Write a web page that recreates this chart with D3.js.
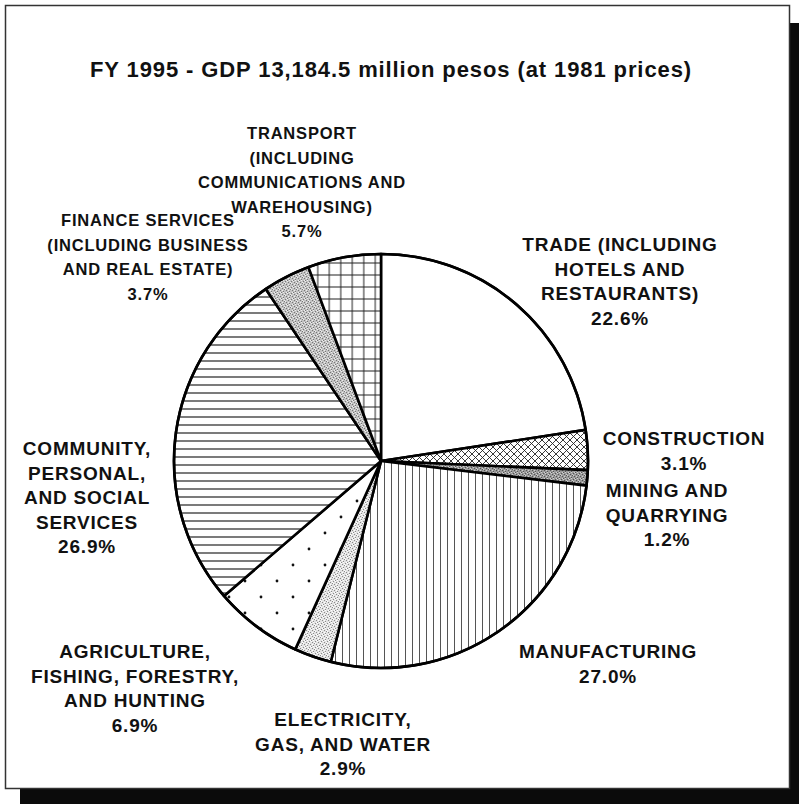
<!DOCTYPE html>
<html>
<head>
<meta charset="utf-8">
<script src="https://cdn.jsdelivr.net/npm/d3@7/dist/d3.min.js"></script>
<style>
  html, body { margin: 0; padding: 0; background: #fff; }
  svg { display: block; }
  text { font-family: "Liberation Sans", Arial, Helvetica, sans-serif; font-weight: bold; fill: #111; }
</style>
</head>
<body>
<svg id="chart" width="799" height="804"></svg>
<script>
// ---- data ----
const title = "FY 1995 - GDP 13,184.5 million pesos (at 1981 prices)";
const categories = [
  "Trade", "Construction", "Mining and quarrying", "Manufacturing",
  "Electricity, gas, and water", "Agriculture, fishing, forestry, and hunting",
  "Community, personal, and social services", "Finance services", "Transport"
];
const values = [22.6, 3.1, 1.2, 27.0, 2.9, 6.9, 26.9, 3.7, 5.7];
const labelLines = [
  ["TRADE (INCLUDING", "HOTELS AND", "RESTAURANTS)"],
  ["CONSTRUCTION"],
  ["MINING AND", "QUARRYING"],
  ["MANUFACTURING"],
  ["ELECTRICITY,", "GAS, AND WATER"],
  ["AGRICULTURE,", "FISHING, FORESTRY,", "AND HUNTING"],
  ["COMMUNITY,", "PERSONAL,", "AND SOCIAL", "SERVICES"],
  ["FINANCE SERVICES", "(INCLUDING BUSINESS", "AND REAL ESTATE)"],
  ["TRANSPORT", "(INCLUDING", "COMMUNICATIONS AND", "WAREHOUSING)"]
];

// ---- layout / style (kept separate from data) ----
const fills = ["white", "url(#pCross)", "url(#pMining)", "url(#pVert)", "url(#pElec)",
               "url(#pDots)", "url(#pHoriz)", "url(#pFin)", "url(#pGrid)"];
const labelAnchor = [[620, 251], [684, 445], [667, 497], [608, 658], [343, 726],
                     [135, 658], [87, 455], [148, 226], [302, 139]];
const labelSize = [19, 19, 19, 19, 19, 19, 19, 16.5, 16.5];
const lineStep = 24.5;
const cx = 381, cy = 461, R = 207;

const svg = d3.select("#chart");
const defs = svg.append("defs");

function pat(id, w, h) {
  return defs.append("pattern").attr("id", id).attr("patternUnits", "userSpaceOnUse")
    .attr("width", w).attr("height", h);
}
let p = pat("pCross", 7, 7);
p.append("rect").attr("width", 7).attr("height", 7).attr("fill", "#fff");
p.append("path").attr("d", "M0,0L7,7M7,0L0,7M-1,6L1,8M6,-1L8,1").attr("stroke", "#222").attr("stroke-width", 0.9);

p = pat("pVert", 7, 10);
p.append("rect").attr("width", 7).attr("height", 10).attr("fill", "#fff");
p.append("line").attr("x1", 3.5).attr("x2", 3.5).attr("y1", 0).attr("y2", 10).attr("stroke", "#555").attr("stroke-width", 1);

p = pat("pHoriz", 10, 8);
p.append("rect").attr("width", 10).attr("height", 8).attr("fill", "#fff");
p.append("line").attr("x1", 0).attr("x2", 10).attr("y1", 4).attr("y2", 4).attr("stroke", "#333").attr("stroke-width", 1.3);

p = pat("pGrid", 11.5, 12);
p.append("rect").attr("width", 11.5).attr("height", 12).attr("fill", "#fff");
p.append("path").attr("d", "M5.75,0V12M0,6H11.5").attr("stroke", "#222").attr("stroke-width", 1);

p = pat("pDots", 32, 32);
p.append("rect").attr("width", 32).attr("height", 32).attr("fill", "#fff");
p.append("circle").attr("cx", 8).attr("cy", 8).attr("r", 1.4).attr("fill", "#111");
p.append("circle").attr("cx", 24).attr("cy", 24).attr("r", 1.4).attr("fill", "#111");

const stippleDark = [[0,0],[3,1],[1,3],[4,4],[2,5],[5,2]];
const stippleLight = [[2,0],[5,1],[0,2],[3,3],[1,5],[4,5]];
function stipple(id, base, dark, light) {
  const s = pat(id, 6, 6);
  s.append("rect").attr("width", 6).attr("height", 6).attr("fill", base);
  stippleDark.forEach(d => s.append("rect").attr("x", d[0]).attr("y", d[1]).attr("width", 1).attr("height", 1).attr("fill", dark));
  stippleLight.forEach(d => s.append("rect").attr("x", d[0]).attr("y", d[1]).attr("width", 1).attr("height", 1).attr("fill", light));
}
stipple("pMining", "#9a9a9a", "#555", "#d0d0d0");
stipple("pElec", "#e2e2e2", "#8a8a8a", "#fff");
stipple("pFin", "#c2c2c2", "#777", "#eee");

// frame with shadow
svg.append("rect").attr("x", 20).attr("y", 23).attr("width", 779).attr("height", 781).attr("fill", "#0b0b0b");
svg.append("rect").attr("x", 5.5).attr("y", 5.5).attr("width", 784).attr("height", 783)
  .attr("fill", "#fff").attr("stroke", "#333").attr("stroke-width", 1.5);

// title
svg.append("text").attr("x", 391).attr("y", 77).attr("text-anchor", "middle")
  .style("font-size", "22px").style("letter-spacing", "0.9px").text(title);

// pie
const pie = d3.pie().sort(null).value(d => d).startAngle(0).endAngle(2 * Math.PI);
const arc = d3.arc().innerRadius(0).outerRadius(R);
const g = svg.append("g").attr("transform", `translate(${cx},${cy})`);
const arcs = pie(values);
g.selectAll("path.slice").data(arcs).join("path").attr("class", "slice")
  .attr("d", arc).attr("fill", (d, i) => fills[i])
  .attr("stroke", "#000").attr("stroke-width", 2.6).attr("stroke-linejoin", "round");
g.append("circle").attr("r", R).attr("fill", "none").attr("stroke", "#000").attr("stroke-width", 2.6);

// labels
const lab = svg.append("g");
labelLines.forEach((lines, i) => {
  const all = lines.concat([values[i].toFixed(1) + "%"]);
  const t = lab.append("text").attr("text-anchor", "middle")
    .style("font-size", labelSize[i] + "px").style("letter-spacing", "0.8px");
  all.forEach((ln, j) => {
    t.append("tspan").attr("x", labelAnchor[i][0]).attr("y", labelAnchor[i][1] + j * lineStep).text(ln);
  });
});
</script>
</body>
</html>
